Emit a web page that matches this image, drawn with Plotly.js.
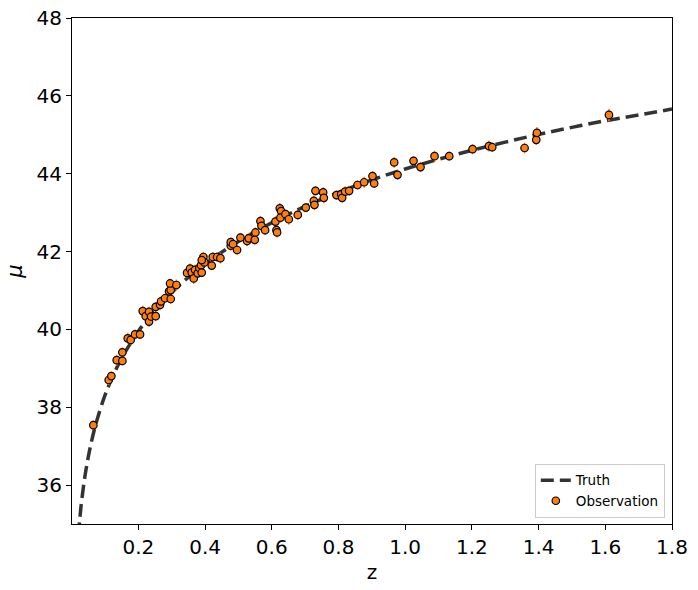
<!DOCTYPE html>
<html>
<head>
<meta charset="utf-8">
<script src="https://cdn.plot.ly/plotly-3.0.1.min.js"></script>
<style>html,body{margin:0;padding:0;background:#fff;}#chart{width:698px;height:590px;}</style>
</head>
<body>
<div id="chart"></div>
<script>
// Truth curve
const truthZ  = [0.02, 0.025, 0.03, 0.04, 0.05, 0.06, 0.07, 0.08, 0.10, 0.12, 0.15, 0.20, 0.25, 0.30, 0.35, 0.40, 0.50, 0.60, 0.70, 0.80, 0.90, 1.00, 1.10, 1.20, 1.30, 1.40, 1.50, 1.60, 1.70, 1.80];
const truthMu = [34.70, 35.19, 35.60, 36.24, 36.73, 37.14, 37.49, 37.79, 38.31, 38.73, 39.26, 39.95, 40.50, 40.95, 41.34, 41.68, 42.26, 42.74, 43.16, 43.52, 43.84, 44.12, 44.37, 44.60, 44.81, 45.01, 45.19, 45.36, 45.51, 45.66];

// Observations
const obsZ = [0.065, 0.111, 0.119, 0.135, 0.152, 0.152, 0.168, 0.177, 0.190, 0.205,
              0.213, 0.222, 0.232, 0.232, 0.238, 0.252, 0.252, 0.265, 0.268, 0.280,
              0.292, 0.297, 0.295, 0.297, 0.314, 0.346, 0.355, 0.360, 0.366, 0.370,
              0.378, 0.383, 0.388, 0.390, 0.395, 0.398, 0.420, 0.423, 0.436, 0.446,
              0.477, 0.477, 0.484, 0.496, 0.506, 0.526, 0.531, 0.549, 0.551, 0.566,
              0.569, 0.580, 0.611, 0.614, 0.616, 0.624, 0.628, 0.626, 0.641, 0.651,
              0.678, 0.702, 0.726, 0.728, 0.731, 0.754, 0.756, 0.794, 0.808, 0.811,
              0.820, 0.832, 0.857, 0.877, 0.902, 0.907, 0.967, 0.977, 1.025, 1.046,
              1.088, 1.132, 1.202, 1.251, 1.261, 1.358, 1.393, 1.395, 1.611, 0.390];
const obsMu = [37.54, 38.70, 38.80, 39.21, 39.19, 39.41, 39.77, 39.73, 39.87, 39.87,
               40.47, 40.34, 40.45, 40.20, 40.33, 40.34, 40.58, 40.63, 40.72, 40.80,
               40.98, 41.01, 41.18, 40.78, 41.14, 41.45, 41.56, 41.46, 41.31, 41.53,
               41.44, 41.58, 41.65, 41.46, 41.86, 41.72, 41.64, 41.86, 41.86, 41.83,
               42.15, 42.24, 42.19, 42.04, 42.36, 42.27, 42.34, 42.30, 42.49, 42.78,
               42.66, 42.55, 42.77, 42.55, 42.49, 43.11, 43.04, 42.87, 42.96, 42.83,
               42.94, 43.13, 43.30, 43.20, 43.56, 43.52, 43.38, 43.45, 43.47, 43.38,
               43.54, 43.56, 43.71, 43.78, 43.94, 43.75, 44.29, 43.97, 44.33, 44.17,
               44.45, 44.45, 44.63, 44.71, 44.68, 44.66, 44.87, 45.05, 45.51, 41.78];
const obsErr = [0.12, 0.13, 0.12, 0.14, 0.12, 0.13, 0.14, 0.12, 0.13, 0.12,
                0.14, 0.12, 0.13, 0.14, 0.12, 0.13, 0.12, 0.14, 0.13, 0.12,
                0.13, 0.14, 0.12, 0.13, 0.14, 0.12, 0.13, 0.12, 0.14, 0.13,
                0.12, 0.14, 0.13, 0.12, 0.13, 0.14, 0.12, 0.13, 0.12, 0.14,
                0.13, 0.12, 0.14, 0.13, 0.12, 0.13, 0.14, 0.12, 0.13, 0.14,
                0.12, 0.13, 0.14, 0.12, 0.13, 0.14, 0.12, 0.13, 0.12, 0.14,
                0.13, 0.12, 0.14, 0.13, 0.12, 0.13, 0.14, 0.12, 0.13, 0.12,
                0.14, 0.13, 0.12, 0.14, 0.13, 0.12, 0.14, 0.13, 0.12, 0.13,
                0.14, 0.12, 0.13, 0.14, 0.12, 0.14, 0.13, 0.15, 0.16, 0.13];

const xTicks = [0.2, 0.4, 0.6, 0.8, 1.0, 1.2, 1.4, 1.6, 1.8];
const xTickText = ["0.2", "0.4", "0.6", "0.8", "1.0", "1.2", "1.4", "1.6", "1.8"];
const yTicks = [36, 38, 40, 42, 44, 46, 48];

const traces = [
  {
    x: truthZ, y: truthMu, type: 'scatter', mode: 'lines', name: 'Truth',
    line: {color: 'rgba(0,0,0,0.8)', width: 3.5, dash: '13px,6px', shape: 'spline'},
    hoverinfo: 'skip'
  },
  {
    x: obsZ, y: obsMu, type: 'scatter', mode: 'markers', name: 'Observation',
    marker: {symbol: 'circle', size: 7.5, color: '#ff7f0e', line: {color: '#000', width: 1.2}},
    error_y: {type: 'data', array: obsErr, visible: true, color: '#ff7f0e', thickness: 1.5, width: 0}
  }
];

const font = {family: 'DejaVu Sans, sans-serif', color: '#000'};
const layout = {
  width: 698, height: 590,
  margin: {l: 72, r: 26, t: 18, b: 66},
  paper_bgcolor: '#fff', plot_bgcolor: '#fff',
  font: font,
  showlegend: true,
  legend: {
    x: 0.988, y: 0.012, xanchor: 'right', yanchor: 'bottom',
    bgcolor: 'rgba(255,255,255,0.8)', bordercolor: '#ccc', borderwidth: 1,
    font: {family: 'DejaVu Sans, sans-serif', size: 13.5, color: '#000'},
    tracegroupgap: 2
  },
  xaxis: {
    range: [0.001, 1.8], tickvals: xTicks, ticktext: xTickText,
    showgrid: false, zeroline: false, showline: true, linecolor: '#000', linewidth: 1,
    mirror: true, ticks: 'outside', ticklen: 5, tickwidth: 1, tickcolor: '#000',
    tickfont: {family: 'DejaVu Sans, sans-serif', size: 20, color: '#000'},
    title: {text: 'z', font: {family: 'DejaVu Sans, sans-serif', size: 20, color: '#000'}, standoff: 6}
  },
  yaxis: {
    range: [35, 48], tickvals: yTicks,
    showgrid: false, zeroline: false, showline: true, linecolor: '#000', linewidth: 1,
    mirror: true, ticks: 'outside', ticklen: 5, tickwidth: 1, tickcolor: '#000',
    tickfont: {family: 'DejaVu Sans, sans-serif', size: 20, color: '#000'},
    title: {text: '<i>μ</i>', font: {family: 'DejaVu Sans, sans-serif', size: 21, color: '#000'}, standoff: 8}
  }
};

Plotly.newPlot('chart', traces, layout, {displayModeBar: false, staticPlot: true});
</script>
</body>
</html>
